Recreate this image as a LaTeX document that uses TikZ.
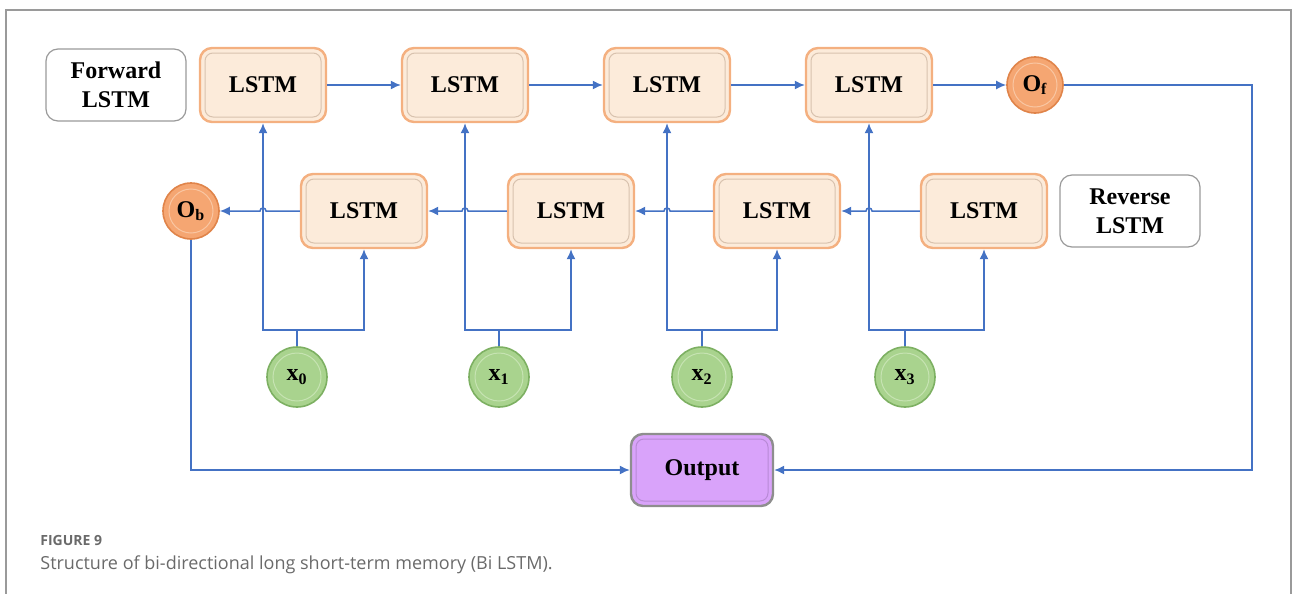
\documentclass[tikz,border=0pt]{standalone}
\usepackage{fontspec}
\setmainfont{Liberation Serif}
\newfontfamily\captionfont{Open Sans}
\usepackage{tikz}
\usetikzlibrary{arrows,arrows.meta,positioning}

\definecolor{lineblue}{HTML}{4472C4}
\definecolor{lstmfill}{HTML}{FCEBDA}
\definecolor{lstmdraw}{HTML}{F4B080}
\definecolor{lstminner}{HTML}{D8C2AE}
\definecolor{ofill}{HTML}{F5A672}
\definecolor{odraw}{HTML}{E0844A}
\definecolor{oinner}{HTML}{F9C6A2}
\definecolor{xfill}{HTML}{A9D38E}
\definecolor{xdraw}{HTML}{7DB062}
\definecolor{xinner}{HTML}{C6E3B2}
\definecolor{outfill}{HTML}{D9A3FA}
\definecolor{outdraw}{HTML}{8E8E8E}
\definecolor{outinner}{HTML}{B88AD6}
\definecolor{framegray}{HTML}{9A9A9A}
\definecolor{captiongray}{HTML}{6A6A6A}

\begin{document}
\begin{tikzpicture}[
    x=0.5pt, y=-0.5pt,
    font=\fontsize{12}{14.5}\selectfont\bfseries,
    labelbox/.style={rectangle, rounded corners=6pt, draw=framegray, line width=0.6pt, fill=white,
        minimum width=70pt, minimum height=36pt, align=center},
    lstm/.style={rectangle, rounded corners=6pt, draw=lstmdraw, line width=1.2pt, fill=lstmfill,
        minimum width=63pt, minimum height=37pt, align=center,
        path picture={\draw[lstminner, line width=0.5pt, rounded corners=4pt]
            ([shift={(2.5pt,2.5pt)}]path picture bounding box.south west) rectangle
            ([shift={(-2.5pt,-2.5pt)}]path picture bounding box.north east);}},
    outnode/.style={lstm, draw=outdraw, fill=outfill, minimum width=71pt, minimum height=36pt,
        path picture={\draw[outinner, line width=0.5pt, rounded corners=4pt]
            ([shift={(2.5pt,2.5pt)}]path picture bounding box.south west) rectangle
            ([shift={(-2.5pt,-2.5pt)}]path picture bounding box.north east);}},
    onode/.style={circle, draw=odraw, line width=0.8pt, fill=ofill, minimum size=28pt, inner sep=0pt,
        path picture={\draw[oinner, line width=0.5pt] (path picture bounding box.center) circle (11pt);}},
    xnode/.style={circle, draw=xdraw, line width=0.8pt, fill=xfill, minimum size=30pt, inner sep=0pt,
        path picture={\draw[xinner, line width=0.5pt] (path picture bounding box.center) circle (12pt);}},
    line/.style={draw=lineblue, line width=0.75pt},
    arrow/.style={line, -{Latex[length=5pt, width=4.5pt]}}
]
\useasboundingbox (0,0) rectangle (1292,594);

% Frame
\draw[framegray, line width=0.8pt] (6,594) -- (6,10) -- (1291,10) -- (1291,594);

% Labels
\node[labelbox] (fwdlabel) at (116,85) {Forward\\LSTM};
\node[labelbox] (revlabel) at (1130,211) {Reverse\\LSTM};

% Forward LSTM row
\node[lstm] (f0) at (263,85) {LSTM};
\node[lstm] (f1) at (465,85) {LSTM};
\node[lstm] (f2) at (667,85) {LSTM};
\node[lstm] (f3) at (869,85) {LSTM};
\node[onode] (of) at (1035,85) {O\textsubscript{f}};

% Reverse LSTM row
\node[lstm] (r0) at (364,211) {LSTM};
\node[lstm] (r1) at (571,211) {LSTM};
\node[lstm] (r2) at (777,211) {LSTM};
\node[lstm] (r3) at (984,211) {LSTM};
\node[onode] (ob) at (191,211) {O\textsubscript{b}};

% Inputs
\node[xnode] (x0) at (297,377) {x\textsubscript{0}};
\node[xnode] (x1) at (499,377) {x\textsubscript{1}};
\node[xnode] (x2) at (702,377) {x\textsubscript{2}};
\node[xnode] (x3) at (905,377) {x\textsubscript{3}};

% Output
\node[outnode] (out) at (702,470) {Output};

% Input split points
\coordinate (j0) at (297,330);
\coordinate (j1) at (499,330);
\coordinate (j2) at (702,330);
\coordinate (j3) at (905,330);
\coordinate (ofturn) at (1252,85);

% Inputs to both directions
\draw[line] (x0) -- (j0);
\draw[line] (x1) -- (j1);
\draw[line] (x2) -- (j2);
\draw[line] (x3) -- (j3);
\draw[arrow] (j0) -| (f0);
\draw[arrow] (j0) -| (r0);
\draw[arrow] (j1) -| (f1);
\draw[arrow] (j1) -| (r1);
\draw[arrow] (j2) -| (f2);
\draw[arrow] (j2) -| (r2);
\draw[arrow] (j3) -| (f3);
\draw[arrow] (j3) -| (r3);

% Forward flow
\draw[arrow] (f0) -- (f1);
\draw[arrow] (f1) -- (f2);
\draw[arrow] (f2) -- (f3);
\draw[arrow] (f3) -- (of);

% Reverse flow (hop over the forward inputs)
\draw[arrow] (r0.west) -- ([xshift=1.5pt]f0.south |- r0.west) arc[start angle=0, end angle=180, radius=1.5pt] -- (ob);
\draw[arrow] (r1.west) -- ([xshift=1.5pt]f1.south |- r1.west) arc[start angle=0, end angle=180, radius=1.5pt] -- (r0);
\draw[arrow] (r2.west) -- ([xshift=1.5pt]f2.south |- r2.west) arc[start angle=0, end angle=180, radius=1.5pt] -- (r1);
\draw[arrow] (r3.west) -- ([xshift=1.5pt]f3.south |- r3.west) arc[start angle=0, end angle=180, radius=1.5pt] -- (r2);

% To output
\draw[arrow] (ob) |- (out);
\draw[arrow] (of) -- (ofturn) |- (out);

% Caption
\node[anchor=base west, font=\captionfont\fontsize{7}{8}\selectfont\bfseries, text=captiongray, inner sep=0pt] (figlabel) at (40,545) {FIGURE 9};
\node[anchor=base west, font=\captionfont\fontsize{9}{11}\selectfont, text=captiongray, inner sep=0pt] (caption) at (40,569) {Structure of bi-directional long short-term memory (Bi LSTM).};
\end{tikzpicture}
\end{document}
